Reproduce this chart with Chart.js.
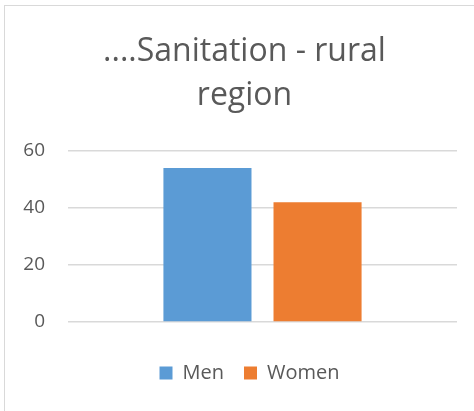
<!DOCTYPE html>
<html>
<head>
<meta charset="utf-8">
<script src="https://cdn.jsdelivr.net/npm/chart.js@4"></script>
<style>
  html, body { margin: 0; padding: 0; background: #fff; }
  #wrap { position: relative; width: 474px; height: 411px; overflow: hidden; }
  #frame { position: absolute; left: 4px; top: 5px; width: 480px; height: 420px; border: 1px solid #d9d9d9; box-sizing: border-box; }
  canvas { position: absolute; left: 0; top: 0; }
</style>
</head>
<body>
<div id="wrap">
  <div id="frame"></div>
  <canvas id="chart" width="474" height="411"></canvas>
</div>
<script>
// Chart data
const categories = [''];
const seriesNames = ['Men', 'Women'];
const seriesValues = [[54], [42]];
const seriesColors = ['#5b9bd5', '#ed7d31'];
const yTicks = [0, 20, 40, 60];
const titleLines = ['....Sanitation - rural', 'region'];

const textColor = '#595959';
const fontFamily = '"Open Sans", "Noto Sans", sans-serif';

const datasets = seriesNames.map((name, i) => ({
  label: name,
  data: seriesValues[i],
  backgroundColor: seriesColors[i],
  borderWidth: 0,
  categoryPercentage: 0.566,
  barPercentage: 0.8
}));

// nudge title and legend right, the reference centres them on the whole frame not the plot
const nudgeBoxes = {
  id: 'nudgeBoxes',
  afterLayout(chart) {
    const shift = (box, dx) => { if (box) { box.left += dx; box.right += dx; } };
    shift(chart.titleBlock, 5);
    shift(chart.legend, 10);
  }
};

const ctx = document.getElementById('chart').getContext('2d');
new Chart(ctx, {
  type: 'bar',
  data: { labels: categories, datasets: datasets },
  plugins: [nudgeBoxes],
  options: {
    responsive: false,
    animation: false,
    layout: { padding: { left: 22, right: 17, top: 0, bottom: 18 } },
    plugins: {
      title: {
        display: true,
        text: titleLines,
        color: textColor,
        font: { family: fontFamily, size: 32, weight: 'normal', lineHeight: 1.375 },
        padding: { top: 30, bottom: 33 }
      },
      legend: {
        display: true,
        position: 'bottom',
        labels: {
          color: textColor,
          boxWidth: 13,
          boxHeight: 13,
          padding: 20,
          font: { family: fontFamily, size: 20 }
        }
      },
      tooltip: { enabled: false }
    },
    scales: {
      x: {
        ticks: { display: false },
        grid: { display: false },
        border: { display: false },
        afterFit: (s) => { s.height = 21; }
      },
      y: {
        min: yTicks[0],
        max: yTicks[yTicks.length - 1],
        afterBuildTicks: (scale) => { scale.ticks = yTicks.map(v => ({ value: v })); },
        afterFit: (s) => { s.width = 46; },
        ticks: {
          color: textColor,
          padding: 23,
          font: { family: fontFamily, size: 19 }
        },
        grid: { color: '#d9d9d9', lineWidth: 1.5, drawTicks: false },
        border: { display: false }
      }
    }
  }
});
</script>
</body>
</html>
